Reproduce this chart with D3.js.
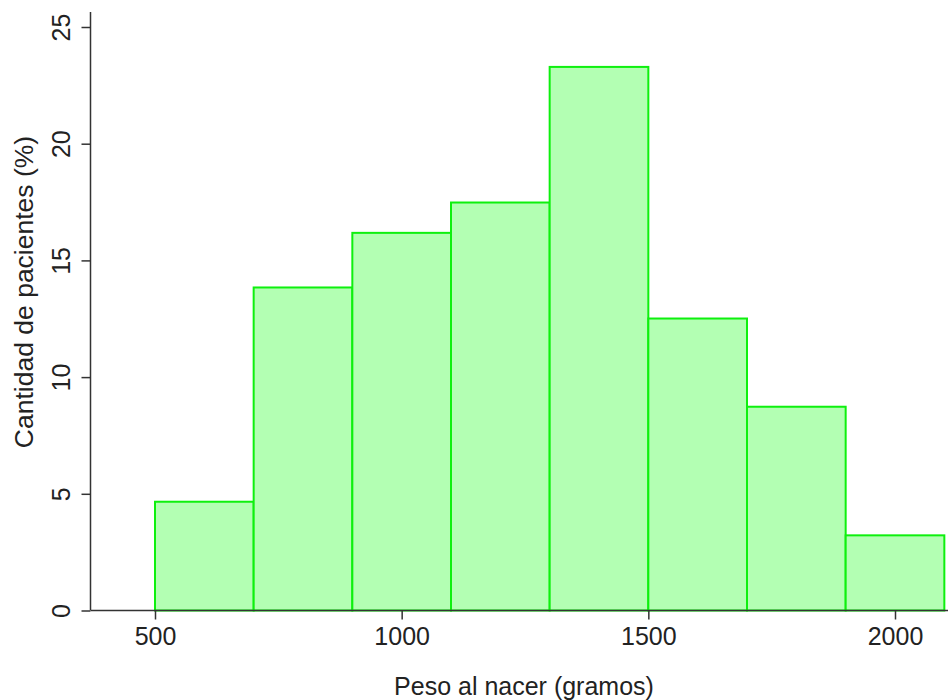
<!DOCTYPE html>
<html>
<head>
<meta charset="utf-8">
<script src="https://cdn.jsdelivr.net/npm/d3@7"></script>
<style>
  body { margin: 0; background: #fff; }
  svg text { font-family: "Liberation Sans", Arial, sans-serif; fill: #222; }
</style>
</head>
<body>
<div id="chart"></div>
<script>
// Histogram data (bin edges in grams, percentage of patients)
const binStarts = [500, 700, 900, 1100, 1300, 1500, 1700, 1900];
const binWidth = 200;
const percents = [4.66, 13.84, 16.18, 17.48, 23.29, 12.51, 8.73, 3.22];
const xTicks = [500, 1000, 1500, 2000];
const yTicks = [0, 5, 10, 15, 20, 25];

const W = 948, H = 700;

const svg = d3.select("#chart").append("svg")
  .attr("width", W)
  .attr("height", H);

// Scales
const x = d3.scaleLinear().domain([500, 2000]).range([155, 895]);
const y = d3.scaleLinear().domain([0, 25]).range([610.5, 27]);

// Bars
svg.selectAll(".bar")
  .data(binStarts)
  .enter()
  .append("rect")
  .attr("class", "bar")
  .attr("x", (d) => x(d))
  .attr("y", (d, i) => y(percents[i]))
  .attr("width", (d) => x(d + binWidth) - x(d))
  .attr("height", (d, i) => y(0) - y(percents[i]))
  .attr("fill", "#b3ffb3")
  .attr("stroke", "#0ef00e")
  .attr("stroke-width", 2);

// Axis lines (extend past tick range like the original)
svg.append("line")
  .attr("x1", x(370)).attr("x2", W)
  .attr("y1", y(0)).attr("y2", y(0))
  .attr("stroke", "#333").attr("stroke-width", 1.5);

svg.append("line")
  .attr("x1", 90.5).attr("x2", 90.5)
  .attr("y1", y(0)).attr("y2", y(25.64))
  .attr("stroke", "#333").attr("stroke-width", 1.5);

// X axis
const gx = svg.append("g")
  .attr("transform", `translate(0,${y(0)})`)
  .call(d3.axisBottom(x).tickValues(xTicks).tickSize(9).tickPadding(8).tickFormat(d3.format("d")));
gx.select(".domain").remove();
gx.selectAll(".tick line").attr("stroke", "#333").attr("stroke-width", 1.5);
gx.selectAll(".tick text")
  .attr("font-size", 25)
  .attr("font-family", "Liberation Sans, Arial, sans-serif")
  .attr("fill", "#222");

// Y axis
const gy = svg.append("g")
  .attr("transform", "translate(90.5,0)")
  .call(d3.axisLeft(y).tickValues(yTicks).tickSize(9));
gy.select(".domain").remove();
gy.selectAll(".tick line").attr("stroke", "#333").attr("stroke-width", 1.5);
gy.selectAll(".tick text")
  .attr("x", null).attr("dy", null)
  .attr("transform", "translate(-21,0) rotate(-90)")
  .attr("text-anchor", "middle")
  .attr("font-size", 25)
  .attr("font-family", "Liberation Sans, Arial, sans-serif")
  .attr("fill", "#222");

// Axis titles
svg.append("text")
  .attr("x", 524)
  .attr("y", 695)
  .attr("text-anchor", "middle")
  .attr("font-size", 25)
  .text("Peso al nacer (gramos)");

svg.append("text")
  .attr("transform", "translate(33,292) rotate(-90)")
  .attr("text-anchor", "middle")
  .attr("font-size", 26.5)
  .text("Cantidad de pacientes (%)");
</script>
</body>
</html>
